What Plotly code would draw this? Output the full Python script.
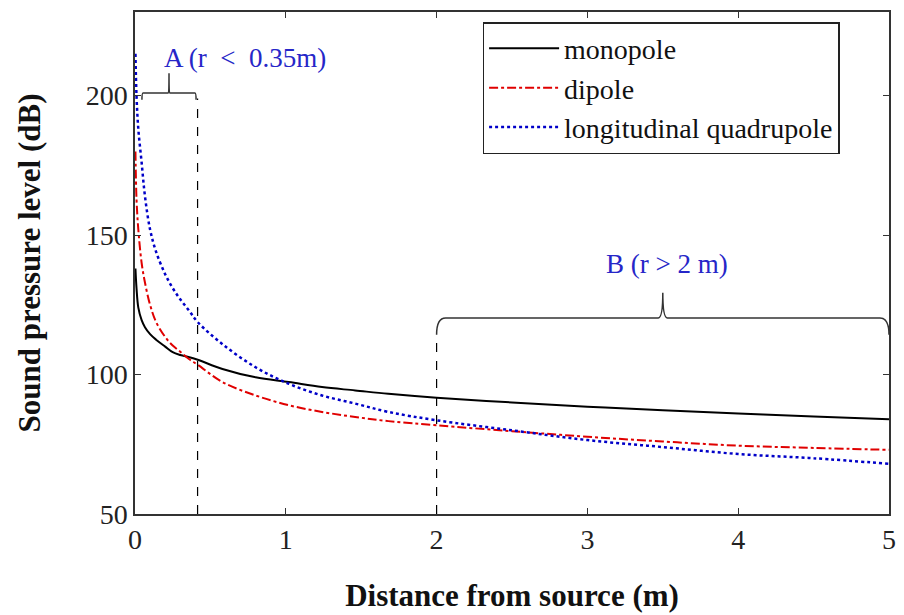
import plotly.graph_objects as go

# distance from source (m)
r = [0.003, 0.01, 0.022, 0.044, 0.066, 0.1, 0.14, 0.2, 0.25, 0.3, 0.36, 0.416,
     0.58, 0.8, 1.02, 1.24, 1.46, 1.68, 2.0, 2.5, 3.0, 3.5, 4.0, 4.5, 5.0]
monopole = [138, 131, 124, 119.5, 117, 114.5, 112.5, 110, 108, 107, 106.2, 105.3,
            102, 99, 97.3, 95.5, 94.3, 93.1, 91.7, 90, 88.5, 87.2, 86, 85, 84]
dipole = [180, 163, 152, 140, 133, 125, 118.8, 113.5, 110.4, 108.2, 105.5, 103.5,
          97.3, 92.5, 89, 86.6, 84.8, 83.3, 81.8, 79.7, 77.7, 76, 74.5, 73.7, 73]
quadrupole = [215, 200, 188, 176, 164, 152, 144, 136, 131, 127, 122.8, 118.8,
              110.9, 102.6, 96.7, 92.5, 89.6, 86.6, 83.6, 80, 76.5, 74, 71.5, 70, 68]

x_ticks = [0, 1, 2, 3, 4, 5]
y_ticks = [50, 100, 150, 200]

# region annotations (data units)
regionA = (0.046, 0.415)
regionA_y = 201
regionB = (2.0, 5.0)
regionB_y = 120.3
labelA = "A (r  <  0.35m)"
labelB = "B (r > 2 m)"

SERIF = "Liberation Serif"
BLUE_TXT = "#2626c8"

fig = go.Figure()
fig.add_trace(go.Scatter(x=r, y=monopole, name="monopole", mode="lines",
                         line=dict(color="black", width=2, shape="spline")))
fig.add_trace(go.Scatter(x=r, y=dipole, name="dipole", mode="lines",
                         line=dict(color="#e00000", width=2, dash="dashdot", shape="spline")))
fig.add_trace(go.Scatter(x=r, y=quadrupole, name="longitudinal quadrupole", mode="lines",
                         line=dict(color="#0000c8", width=2.5, dash="dot", shape="spline")))

def brace(x0, x1, y, h, pip):
    xm = (x0 + x1) / 2
    return (f"M{x0},{y - h} Q{x0},{y} {x0 + (x1 - x0) * 0.02},{y} "
            f"L{xm - (x1 - x0) * 0.01},{y} Q{xm},{y} {xm},{y + pip} "
            f"Q{xm},{y} {xm + (x1 - x0) * 0.01},{y} "
            f"L{x1 - (x1 - x0) * 0.02},{y} Q{x1},{y} {x1},{y - h}")

shapes = [
    dict(type="path", path=brace(regionA[0], regionA[1] - 0.01, regionA_y, 2.5, 7),
         line=dict(color="#333333", width=1.5)),
    dict(type="line", x0=regionA[1], x1=regionA[1], y0=50, y1=regionA_y - 2,
         line=dict(color="black", width=1.2, dash="dash")),
    dict(type="path", path=brace(regionB[0], regionB[1], regionB_y, 6, 9),
         line=dict(color="#333333", width=1.5)),
    dict(type="line", x0=regionB[0], x1=regionB[0], y0=50, y1=regionB_y - 6,
         line=dict(color="black", width=1.2, dash="dash")),
]

annotations = [
    dict(x=0.73, y=213.5, text=labelA, showarrow=False, xanchor="center", yanchor="middle",
         font=dict(family=SERIF, size=27, color=BLUE_TXT)),
    dict(x=3.53, y=139.5, text=labelB, showarrow=False, xanchor="center", yanchor="middle",
         font=dict(family=SERIF, size=27, color=BLUE_TXT)),
]

axis_common = dict(showline=True, linecolor="#333333", linewidth=1.5, mirror="ticks",
                   ticks="inside", ticklen=6, tickwidth=1.2, tickcolor="#333333",
                   showgrid=False, zeroline=False,
                   tickfont=dict(family=SERIF, size=28, color="#222222"))

fig.update_layout(
    width=904, height=615,
    margin=dict(l=135, r=8, t=12, b=99),
    paper_bgcolor="white", plot_bgcolor="white",
    shapes=shapes, annotations=annotations,
    xaxis=dict(range=[0, 5], tickvals=x_ticks,
               title=dict(text="<b>Distance from source (m)</b>", standoff=30,
                          font=dict(family=SERIF, size=31, color="#111111")),
               **axis_common),
    yaxis=dict(range=[50, 230], tickvals=y_ticks,
               title=dict(text="<b>Sound pressure level (dB)</b>", standoff=36,
                          font=dict(family=SERIF, size=31, color="#111111")),
               **axis_common),
    legend=dict(x=0.461, y=0.98, xanchor="left", yanchor="top",
                bordercolor="#222222", borderwidth=1.5, bgcolor="white",
                font=dict(family=SERIF, size=28, color="#111111"),
                tracegroupgap=0, itemwidth=70),
    showlegend=True,
)

fig.write_html("out.html")
